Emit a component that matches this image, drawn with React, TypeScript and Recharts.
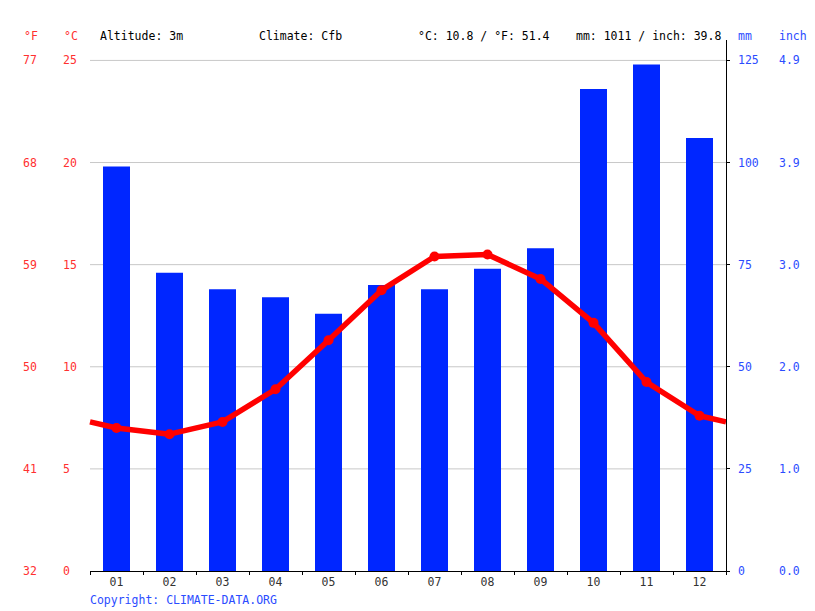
import { ComposedChart, Bar, Line, XAxis, YAxis, CartesianGrid } from "recharts";

const months = ["01", "02", "03", "04", "05", "06", "07", "08", "09", "10", "11", "12"];
const tempC = [7.0, 6.7, 7.3, 8.9, 11.3, 13.75, 15.4, 15.5, 14.3, 12.15, 9.25, 7.6];
const precipMm = [99, 73, 69, 67, 63, 70, 69, 74, 79, 118, 124, 106];
// the temperature line runs on to the plot edges
const edgeTempC = [7.3, 7.3];
const tempTicks = [0, 5, 10, 15, 20, 25];
const mmTicks = [0, 25, 50, 75, 100, 125];
const monthCenters = months.map((_, i) => i + 0.5);

const RED = "#ff3030";
const BLUE = "#2b4cff";
const BAR = "#0026ff";
const MONO = "'DejaVu Sans Mono', monospace";
const FS = 11.5;

const W = 815;
const H = 611;
const LEFT_W = 90;
const RIGHT_W = 89;
const HALF_BAND = (W - LEFT_W - RIGHT_W) / months.length / 2;

const barRows = months.map((m, i) => ({ x: i + 0.5, m, p: precipMm[i] }));
const lineRows = [
  { x: 0, t: edgeTempC[0] },
  ...months.map((m, i) => ({ x: i + 0.5, m, t: tempC[i] })),
  { x: months.length, t: edgeTempC[1] },
];

function TempTick({ x, y, payload }: any) {
  return (
    <g>
      <text x={x - 67} y={y} dy="0.35em" fill={RED} fontSize={FS} fontFamily={MONO}>
        {Math.round((payload.value * 9) / 5 + 32)}
      </text>
      <text x={x - 27} y={y} dy="0.35em" fill={RED} fontSize={FS} fontFamily={MONO}>
        {payload.value}
      </text>
    </g>
  );
}

function RainTick({ x, y, payload }: any) {
  return (
    <g>
      <text x={x} y={y} dy="0.35em" fill={BLUE} fontSize={FS} fontFamily={MONO}>
        {payload.value}
      </text>
      <text x={x + 41} y={y} dy="0.35em" fill={BLUE} fontSize={FS} fontFamily={MONO}>
        {(payload.value / 25.4).toFixed(1)}
      </text>
    </g>
  );
}

// month label at the centre, tick marks on the month boundaries
function MonthTick({ x, y, payload, index }: any) {
  const last = index === months.length - 1;
  return (
    <g>
      <line x1={x - HALF_BAND} x2={x - HALF_BAND} y1={y} y2={y + 4} stroke="#000" shapeRendering="crispEdges" />
      {last && (
        <line x1={x + HALF_BAND} x2={x + HALF_BAND} y1={y} y2={y + 4} stroke="#000" shapeRendering="crispEdges" />
      )}
      <text x={x} y={y + 11} textAnchor="middle" dy="0.35em" fill="#333" fontSize={FS} fontFamily={MONO}>
        {months[Math.floor(payload.value)]}
      </text>
    </g>
  );
}

function TempDot(props: any) {
  const { cx, cy, payload, index } = props;
  if (!payload.m) return <g key={index} />;
  return <circle key={index} cx={cx} cy={cy} r={5} fill="#ff0000" />;
}

const label = (left: number, top: number, color: string, text: string) => (
  <div
    style={{
      position: "absolute",
      left,
      top,
      color,
      fontFamily: MONO,
      fontSize: FS,
      lineHeight: "14px",
      whiteSpace: "pre",
    }}
  >
    {text}
  </div>
);

export default function App() {
  return (
    <div style={{ position: "absolute", left: 0, top: 0, width: W, height: H, background: "#fff" }}>
      {label(24, 29, RED, "°F")}
      {label(64, 29, RED, "°C")}
      {label(100, 29, "#000", "Altitude: 3m")}
      {label(259, 29, "#000", "Climate: Cfb")}
      {label(418, 29, "#000", "°C: 10.8 / °F: 51.4")}
      {label(576, 29, "#000", "mm: 1011 / inch: 39.8")}
      {label(738, 29, BLUE, "mm")}
      {label(779, 29, BLUE, "inch")}
      <ComposedChart
        width={W}
        height={H}
        data={barRows}
        margin={{ top: 40, right: 0, bottom: 10, left: 0 }}
      >
        <CartesianGrid vertical={false} horizontalValues={tempTicks.slice(1)} yAxisId="c" xAxisId="mon" stroke="#c8c8c8" />
        <XAxis
          xAxisId="mon"
          type="number"
          dataKey="x"
          domain={[0, months.length]}
          ticks={monthCenters}
          interval={0}
          height={30}
          axisLine={{ stroke: "#000", shapeRendering: "crispEdges" }}
          tickLine={false}
          tickSize={0}
          tickMargin={0}
          tick={<MonthTick />}
        />
        <XAxis xAxisId="line" type="number" dataKey="x" domain={[0, months.length]} height={0} hide />
        <YAxis
          yAxisId="c"
          orientation="left"
          width={LEFT_W}
          domain={[0, 26]}
          ticks={tempTicks}
          interval={0}
          axisLine={false}
          tickLine={false}
          tickSize={0}
          tickMargin={0}
          tick={<TempTick />}
        />
        <YAxis
          yAxisId="mm"
          orientation="right"
          width={RIGHT_W}
          domain={[0, 130]}
          ticks={mmTicks}
          interval={0}
          axisLine={{ stroke: "#000", shapeRendering: "crispEdges" }}
          tickLine={{ stroke: "#000", shapeRendering: "crispEdges" }}
          tickSize={4}
          tickMargin={8}
          tick={<RainTick />}
        />
        <Bar
          xAxisId="mon"
          yAxisId="mm"
          dataKey="p"
          fill={BAR}
          barSize={27}
          isAnimationActive={false}
        />
        <Line
          xAxisId="line"
          yAxisId="c"
          data={lineRows}
          dataKey="t"
          type="linear"
          stroke="#ff0000"
          strokeWidth={5.5}
          strokeLinejoin="round"
          dot={TempDot}
          activeDot={false}
          isAnimationActive={false}
        />
      </ComposedChart>
      {label(90, 593, BLUE, "Copyright: CLIMATE-DATA.ORG")}
    </div>
  );
}
